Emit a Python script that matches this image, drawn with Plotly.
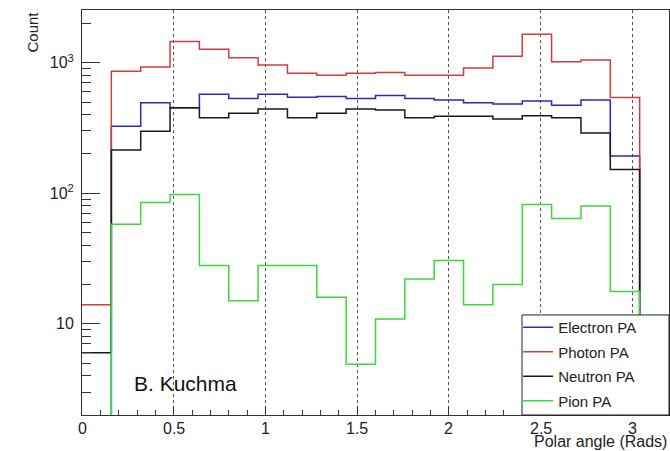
import plotly.graph_objects as go

# Histogram binning: 20 bins of width 0.16 from 0 to 3.2
bin_edges = [round(i * 0.16, 2) for i in range(21)]

electron_pa = [0, 326, 494, 451, 574, 531, 574, 545, 550, 531, 560, 531, 519, 494, 483, 509, 472, 519, 193, 0]
photon_pa = [14, 861, 929, 1452, 1269, 1094, 962, 831, 802, 831, 840, 802, 802, 912, 1121, 1653, 1019, 1050, 541, 0]
neutron_pa = [6, 214, 298, 451, 379, 410, 443, 379, 410, 443, 435, 379, 389, 389, 371, 392, 379, 290, 152, 0]
pion_pa = [0, 58, 85, 98, 28, 15, 28, 28, 16, 4.9, 10.9, 22, 30.5, 14, 20, 82, 64, 80, 17.7, 0]

series_names = ["Electron PA", "Photon PA", "Neutron PA", "Pion PA"]
series_values = [electron_pa, photon_pa, neutron_pa, pion_pa]
series_colors = ["#2a2ab8", "#d43c3c", "#1a1a1a", "#3bd83b"]

x_tick_vals = [0, 0.5, 1, 1.5, 2, 2.5, 3]
x_tick_text = ["0", "0.5", "1", "1.5", "2", "2.5", "3"]
y_tick_vals = [10, 100, 1000]
y_tick_text = ["10", "10<sup>2</sup>", "10<sup>3</sup>"]
y_minor_vals = [2, 3, 4, 5, 6, 7, 8, 9, 20, 30, 40, 50, 60, 70, 80, 90,
                200, 300, 400, 500, 600, 700, 800, 900, 2000]

FLOOR = 1  # empty bins drop below the log-axis floor (drawn to frame bottom)

fig = go.Figure()
for name, vals, col in zip(series_names, series_values, series_colors):
    yv = [v if v > 0 else FLOOR for v in vals]
    yv = yv + [yv[-1]]
    fig.add_trace(go.Scatter(
        x=bin_edges, y=yv, mode="lines", line_shape="hv",
        line=dict(color=col, width=1.5), name=name, legendgroup=name,
    ))

font_family = "Liberation Sans, Arial, sans-serif"
fig.update_layout(
    width=670, height=451,
    margin=dict(l=82, r=1, t=10, b=36),
    paper_bgcolor="white", plot_bgcolor="white",
    font=dict(family=font_family, color="#222", size=15),
    showlegend=True,
    legend=dict(
        x=0.743, xanchor="left", y=0.257, yanchor="top",
        bgcolor="rgba(0,0,0,0)", borderwidth=0,
        font=dict(size=15, family=font_family, color="#222"),
        traceorder="grouped", tracegroupgap=2,
        itemwidth=30,
    ),
    xaxis=dict(
        range=[0, 3.2], tickmode="array", tickvals=x_tick_vals,
        showticklabels=False,
        ticks="inside", ticklen=9, tickcolor="#333", tickwidth=1,
        showline=True, linecolor="#333", linewidth=1, mirror=True,
        showgrid=True, gridcolor="#555", griddash="dot", gridwidth=1,
        zeroline=False,
        minor=dict(ticks="inside", ticklen=5, dtick=0.1, tickcolor="#333", showgrid=False),
    ),
    yaxis=dict(
        type="log", range=[0.301, 3.404],
        tickmode="array", tickvals=y_tick_vals, ticktext=y_tick_text,
        ticks="inside", ticklen=18, tickcolor="#333", tickwidth=1,
        showline=True, linecolor="#333", linewidth=1, mirror=True,
        showgrid=False, zeroline=False, tickfont=dict(size=16), ticklabelstandoff=4,
        minor=dict(ticks="inside", ticklen=9, tickmode="array", tickvals=y_minor_vals,
                   tickcolor="#333", showgrid=False),
    ),
)

# x tick labels placed close under the axis, ROOT style
for tv, tt in zip(x_tick_vals, x_tick_text):
    fig.add_annotation(text=tt, xref="x", yref="paper", x=tv, y=0,
                       xanchor="center", yanchor="middle", yshift=-13,
                       showarrow=False, font=dict(size=16, color="#222"))

# legend frame (TLegend-style box)
fig.add_shape(type="rect", xref="paper", yref="paper",
              x0=0.7496, x1=1, y0=0, y1=0.247,
              line=dict(color="#222", width=1), fillcolor="white", layer="above")

fig.add_annotation(text="Count", textangle=-90, xref="paper", yref="paper",
                   x=0, y=1, xanchor="center", yanchor="top", xshift=-50,
                   showarrow=False, font=dict(size=15, color="#222"))
fig.add_annotation(text="Polar angle (Rads)", xref="paper", yref="paper",
                   x=1, y=0, xanchor="right", yanchor="middle", yshift=-26,
                   showarrow=False, font=dict(size=16, color="#222"))
fig.add_annotation(text="B. Kuchma", xref="paper", yref="paper",
                   x=0.086, y=0.079, xanchor="left", yanchor="middle",
                   showarrow=False, font=dict(size=21, color="#111"))

fig.write_html("out.html")
